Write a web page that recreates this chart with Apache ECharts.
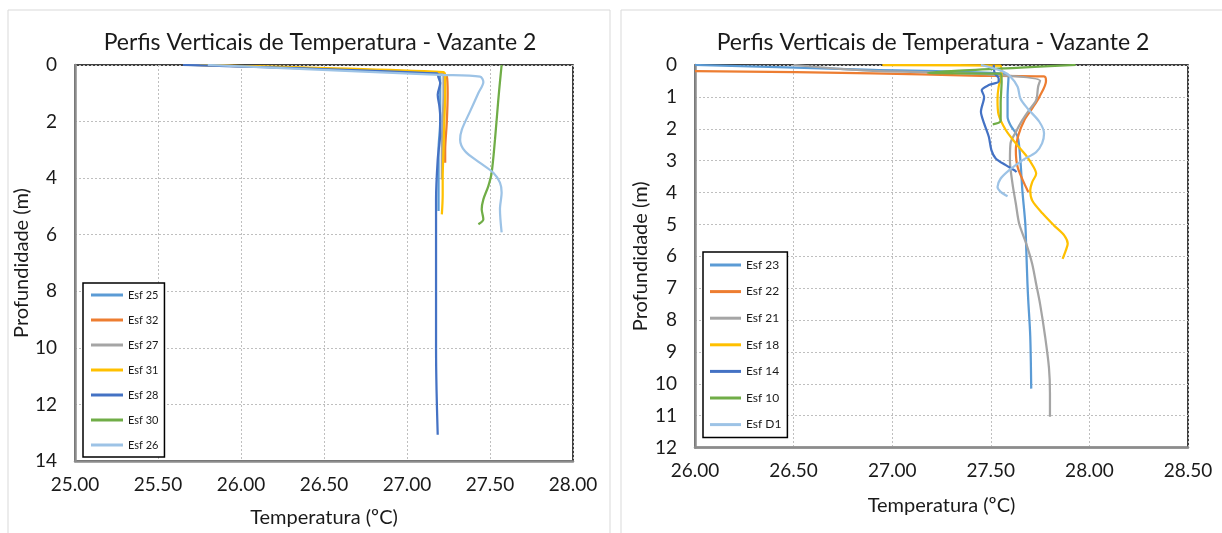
<!DOCTYPE html>
<html>
<head>
<meta charset="utf-8">
<script src="https://cdn.jsdelivr.net/npm/echarts@6/dist/echarts.min.js"></script>
<style>
html,body{margin:0;padding:0;background:#fff;}
#c{width:1222px;height:533px;}
</style>
</head>
<body>
<div id="c"></div>
<script>
// ---------- DATA ----------
const chartTitle = 'Perfis Verticais de Temperatura - Vazante 2';
const xName = 'Temperatura (ºC)';
const yName = 'Profundidade (m)';

// Left chart series: [temperature (ºC), depth (m)]
const leftNames = ['Esf 25', 'Esf 32', 'Esf 27', 'Esf 31', 'Esf 28', 'Esf 30', 'Esf 26'];
const esf25 = [[25.70,0],[27.19,0.30],[27.20,0.50],[27.20,1.0],[27.20,2.0],[27.19,3.0],[27.19,4.0],[27.19,5.16]];
const esf32 = [[25.72,0],[27.20,0.28],[27.24,0.40],[27.245,1.0],[27.24,2.0],[27.23,3.0],[27.23,3.46]];
const esf27 = [[25.68,0],[27.20,0.27],[27.22,0.40],[27.22,1.0],[27.215,2.0],[27.21,3.0],[27.21,4.05]];
const esf31 = [[25.75,0],[27.22,0.25],[27.23,0.40],[27.23,1.0],[27.225,2.0],[27.22,3.0],[27.215,4.0],[27.215,4.6],[27.21,5.28]];
const esf28 = [[25.65,0],[27.18,0.30],[27.19,0.45],[27.20,0.64],[27.185,1.05],[27.195,1.46],[27.20,1.82],[27.20,2.4],[27.185,3.34],[27.175,4.75],[27.175,6.5],[27.175,8.0],[27.175,10.0],[27.178,11.5],[27.185,13.07]];
const esf30 = [[27.57,0],[27.56,0.6],[27.55,1.23],[27.53,2.64],[27.51,3.81],[27.49,4.28],[27.46,4.75],[27.45,5.1],[27.46,5.45],[27.43,5.63]];
const esf26 = [[25.80,0],[27.20,0.35],[27.44,0.41],[27.46,0.60],[27.43,0.99],[27.38,1.64],[27.33,2.29],[27.32,2.64],[27.35,3.05],[27.44,3.46],[27.52,3.81],[27.56,4.16],[27.57,4.51],[27.56,5.1],[27.57,5.92]];

// Right chart series
const rightNames = ['Esf 23', 'Esf 22', 'Esf 21', 'Esf 18', 'Esf 14', 'Esf 10', 'Esf D1'];
const esf23 = [[26.0,0.0],[26.9,0.15],[27.5,0.25],[27.59,0.35],[27.585,1.0],[27.585,1.62],[27.60,1.89],[27.636,2.25],[27.65,2.99],[27.66,3.93],[27.675,4.98],[27.68,5.82],[27.686,6.87],[27.69,7.39],[27.70,8.5],[27.705,10.15]];
const esf22 = [[26.0,0.19],[26.9,0.26],[27.4,0.33],[27.77,0.36],[27.78,0.50],[27.746,1.0],[27.71,1.36],[27.67,1.73],[27.64,2.2],[27.627,2.67],[27.636,3.2],[27.67,3.72],[27.69,3.98]];
const esf21 = [[26.5,0],[26.85,0.17],[27.5,0.30],[27.75,0.49],[27.74,0.68],[27.73,1.1],[27.695,1.41],[27.66,1.73],[27.627,2.1],[27.60,2.46],[27.597,2.99],[27.61,3.72],[27.627,4.35],[27.644,4.98],[27.68,5.61],[27.71,6.24],[27.73,6.87],[27.75,7.5],[27.775,8.5],[27.795,9.5],[27.80,10.3],[27.80,11.03]];
const esf18 = [[26.95,0],[27.55,0.02],[27.555,0.30],[27.54,0.68],[27.534,1.1],[27.54,1.57],[27.576,2.04],[27.627,2.46],[27.678,2.83],[27.717,3.2],[27.73,3.41],[27.71,3.67],[27.70,3.93],[27.71,4.25],[27.763,4.66],[27.82,5.03],[27.873,5.35],[27.89,5.61],[27.88,5.82],[27.864,6.08]];
const esf14 = [[27.515,0],[27.52,0.26],[27.54,0.42],[27.54,0.52],[27.49,0.63],[27.454,0.79],[27.466,1.0],[27.45,1.47],[27.466,1.83],[27.49,2.25],[27.503,2.67],[27.525,2.93],[27.576,3.14],[27.62,3.30],[27.63,3.36]];
const esf10 = [[27.93,0],[27.65,0.08],[27.18,0.25],[27.55,0.27],[27.555,0.5],[27.55,1.2],[27.55,1.75],[27.51,1.86]];
const esfD1 = [[27.45,0],[27.56,0.20],[27.60,0.37],[27.636,0.68],[27.65,1.05],[27.686,1.36],[27.746,1.78],[27.77,2.15],[27.76,2.46],[27.73,2.73],[27.66,2.99],[27.593,3.3],[27.55,3.56],[27.534,3.83],[27.55,3.98],[27.585,4.12]];

const leftData = [esf25, esf32, esf27, esf31, esf28, esf30, esf26];
const rightData = [esf23, esf22, esf21, esf18, esf14, esf10, esfD1];
const palette = ['#5B9BD5', '#ED7D31', '#A5A5A5', '#FFC000', '#4472C4', '#70AD47', '#9DC3E6'];

// ---------- CHART ----------
const FONT = 'Lato, "Open Sans", sans-serif';
const chart = echarts.init(document.getElementById('c'), null, {renderer: 'canvas'});

function mkSeries(names, data, idx) {
  return names.map((n, i) => ({
    name: n, type: 'line', xAxisIndex: idx, yAxisIndex: idx,
    data: data[i], symbol: 'none', smooth: 0.3,
    color: palette[i],
    lineStyle: {width: 2.25, color: palette[i]},
    emphasis: {disabled: true}
  }));
}

function xAxis(idx, min, max, gap) {
  return {
    type: 'value', gridIndex: idx, min: min, max: max, interval: 0.5, position: 'bottom',
    name: xName, nameLocation: 'middle', nameGap: gap,
    nameTextStyle: {fontFamily: FONT, fontSize: 20, color: '#1a1a1a'},
    axisLine: {show: true, onZero: false, lineStyle: {color: '#8c8c8c', width: 2.5}},
    axisTick: {show: false},
    axisLabel: {fontFamily: FONT, fontSize: 19, color: '#1a1a1a', margin: 14, formatter: v => v.toFixed(2)},
    splitLine: {show: true, lineStyle: {color: '#bfbfbf', type: [2, 2], width: 1}}
  };
}
function yAxis(idx, max, interval, gap) {
  return {
    type: 'value', gridIndex: idx, min: 0, max: max, interval: interval, inverse: true,
    name: yName, nameLocation: 'middle', nameGap: gap, nameRotate: 90,
    nameTextStyle: {fontFamily: FONT, fontSize: 20, color: '#1a1a1a'},
    axisLine: {show: true, onZero: false, lineStyle: {color: '#8c8c8c', width: 2.5}},
    axisTick: {show: false},
    axisLabel: {fontFamily: FONT, fontSize: 19, color: '#1a1a1a', margin: 18},
    splitLine: {show: true, lineStyle: {color: '#bfbfbf', type: [2, 2], width: 1}}
  };
}

const option = {
  animation: false,
  backgroundColor: '#fff',
  graphic: [
    {type: 'rect', shape: {x: 8, y: 10, width: 602, height: 540}, style: {fill: 'none', stroke: '#d9d9d9', lineWidth: 1}, silent: true, z: -10},
    {type: 'rect', shape: {x: 621, y: 10, width: 610, height: 540}, style: {fill: 'none', stroke: '#d9d9d9', lineWidth: 1}, silent: true, z: -10}
  ],
  title: [
    {text: chartTitle, left: 315, top: 26, textAlign: 'center',
     textStyle: {fontFamily: FONT, fontSize: 23, fontWeight: 'normal', color: '#1a1a1a'}},
    {text: chartTitle, left: 928, top: 26, textAlign: 'center',
     textStyle: {fontFamily: FONT, fontSize: 23, fontWeight: 'normal', color: '#1a1a1a'}}
  ],
  grid: [
    {left: 75, top: 65, width: 498, height: 398, show: true, borderColor: '#000', borderWidth: 1.5, backgroundColor: 'transparent'},
    {left: 695, top: 65, width: 493, height: 382.6, show: true, borderColor: '#000', borderWidth: 1.5, backgroundColor: 'transparent'}
  ],
  xAxis: [xAxis(0, 25, 28, 47), xAxis(1, 26, 28.5, 48)],
  yAxis: [yAxis(0, 14, 2, 42), yAxis(1, 12, 1, 44)],
  legend: [
    {data: leftNames, orient: 'vertical', left: 83, top: 283, icon: 'rect', itemWidth: 32, itemHeight: 3,
     itemGap: 13, itemTextGap: 3, padding: [6, 6, 6, 8], borderColor: '#000', borderWidth: 1.5, backgroundColor: '#fff',
     selectedMode: false, textStyle: {fontFamily: FONT, fontSize: 11, color: '#1a1a1a', lineHeight: 12}},
    {data: rightNames, orient: 'vertical', left: 703, top: 252, icon: 'rect', itemWidth: 31, itemHeight: 3,
     itemGap: 14.6, itemTextGap: 3, padding: [7, 6, 7, 7], borderColor: '#000', borderWidth: 1.5, backgroundColor: '#fff',
     selectedMode: false, textStyle: {fontFamily: FONT, fontSize: 12, color: '#1a1a1a', lineHeight: 12}}
  ],
  series: mkSeries(leftNames, leftData, 0).concat(mkSeries(rightNames, rightData, 1))
};
chart.setOption(option);
</script>
</body>
</html>
